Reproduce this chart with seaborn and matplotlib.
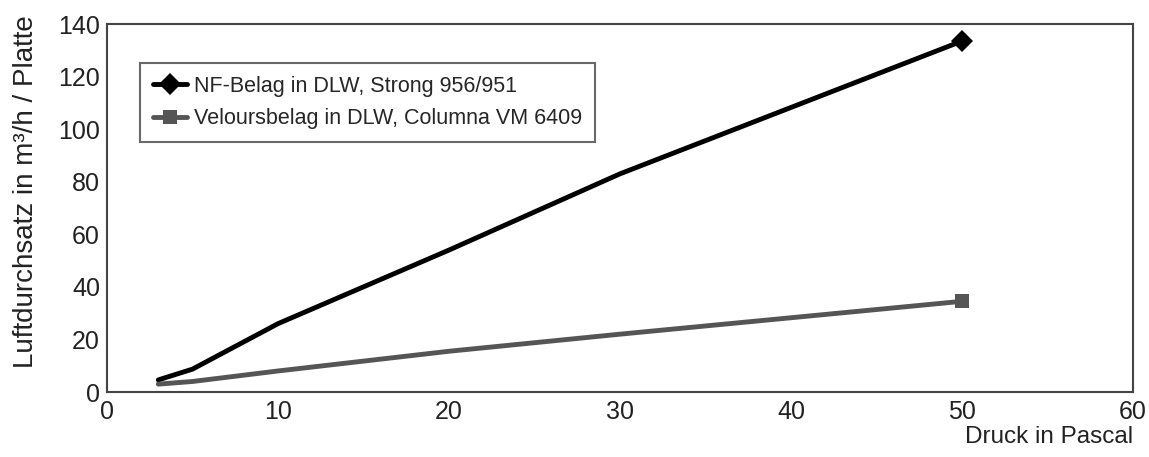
import matplotlib
matplotlib.use("Agg")
import matplotlib.pyplot as plt
import seaborn as sns
import pandas as pd

# Werte
druck = [3, 5, 10, 20, 30, 50]
nf_belag = [4.6, 8.7, 26, 54, 83, 133.5]
velours = [3, 4, 8, 15.5, 22, 34.5]

label_nf = "NF-Belag in DLW, Strong 956/951"
label_velours = "Veloursbelag in DLW, Columna VM 6409"

df = pd.DataFrame({"Druck": druck * 2,
                   "Wert": nf_belag + velours,
                   "Serie": [label_nf] * len(druck) + [label_velours] * len(druck)})

sns.set_style("white")
plt.rcParams['font.family'] = ['Liberation Sans', 'DejaVu Sans']

fig = plt.figure(figsize=(11.49, 4.57), dpi=100)
ax = fig.add_axes([107 / 1149, 1 - 392 / 457, (1133 - 107) / 1149, (392 - 24) / 457])

farben = {label_nf: "black", label_velours: "#555555"}
marker = {label_nf: "D", label_velours: "s"}
for name, grp in df.groupby("Serie", sort=False):
    sns.lineplot(data=grp, x="Druck", y="Wert", ax=ax, color=farben[name],
                 linewidth=3.5, marker=marker[name], markersize=10 if name == label_velours else 11,
                 markevery=[len(grp) - 1], markeredgewidth=0, label=name)

ax.set_xlim(0, 60)
ax.set_ylim(0, 140)
ax.set_xticks(range(0, 61, 10))
ax.set_yticks(range(0, 141, 20))
ax.tick_params(axis="both", length=0, labelsize=18, colors="#222222")
ax.tick_params(axis="y", pad=5)
ax.tick_params(axis="x", pad=6)
for s in ax.spines.values():
    s.set_color("#444444")
    s.set_linewidth(1.5)

ax.set_xlabel("")
ax.set_ylabel("Luftdurchsatz in m³/h / Platte", fontsize=20, color="#222222")
ax.yaxis.set_label_coords(-0.066, 0.545)
fig.text(1133 / 1149, 1 - 437 / 457, "Druck in Pascal", ha="right", va="center",
         fontsize=17.5, color="#222222")

leg = ax.legend(loc="upper left", bbox_to_anchor=(0.032, 0.894), fontsize=15.5,
                frameon=True, fancybox=False, handlelength=1.6, handletextpad=0.3,
                borderpad=0.6, labelspacing=0.53, borderaxespad=0)
leg.get_frame().set_edgecolor("#444444")
leg.get_frame().set_linewidth(1.5)

fig.savefig("out.png", dpi=100)
